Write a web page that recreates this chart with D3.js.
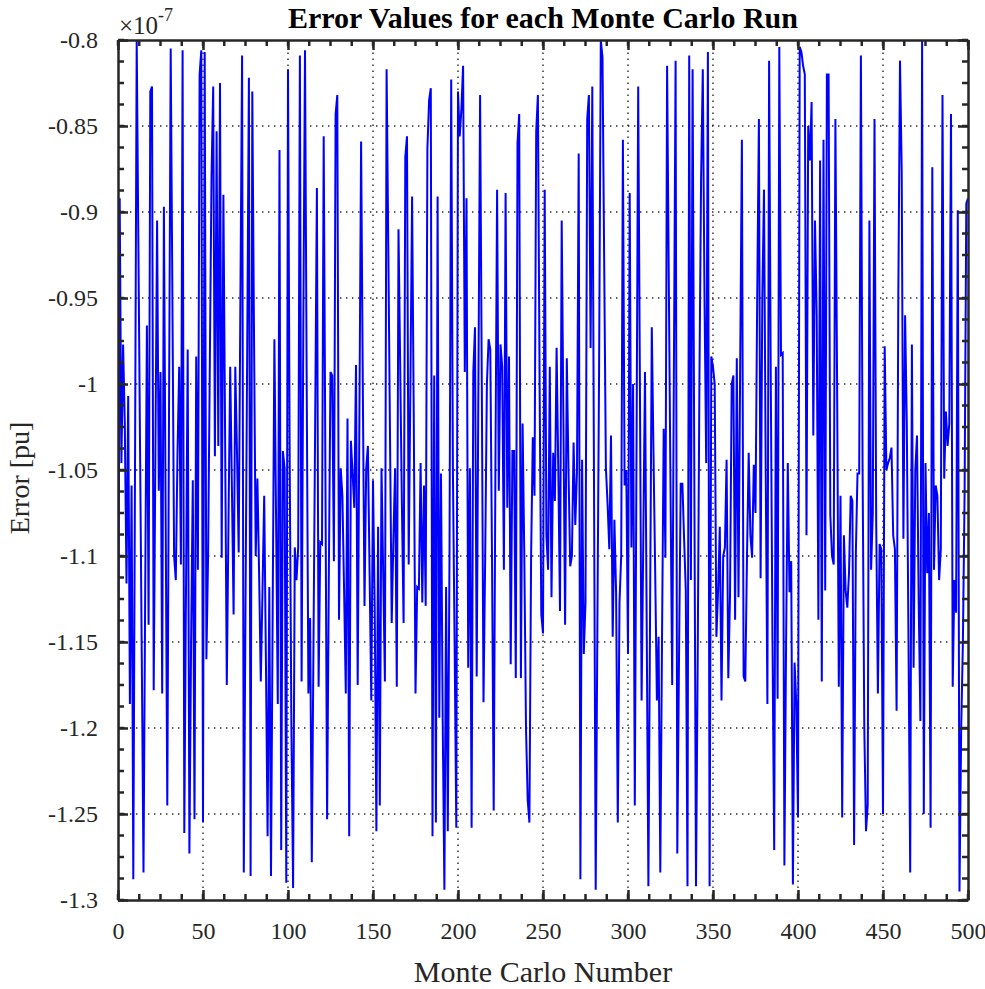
<!DOCTYPE html>
<html><head><meta charset="utf-8">
<script src="https://cdn.jsdelivr.net/npm/d3@7"></script>
<style>body{margin:0;background:#fff}svg{display:block}</style>
</head><body>
<svg id="chart" width="985" height="989"></svg>
<script>
// Error values (x1e-7 pu) for Monte Carlo runs 0..500
const runs000 = [-1.265,-0.892,-1.046,-0.977,-1.023,-1.116,-1.007,-1.186,-1.059,-1.288,
-1.05,-0.80,-0.92,-1.04,-1.16,-1.284,-1.12,-0.966,-1.14,-0.83,
-0.827,-1.178,-1.04,-0.905,-1.062,-0.993,-1.18,-0.897,-1.07,-1.245,
-1.02,-0.805,-0.95,-1.10,-1.114,-1.04,-0.99,-1.105,-0.806,-1.261,
-1.12,-0.98,-1.273,-1.15,-1.056,-1.253,-0.984,-1.108,-0.82,-0.806];
const runs050 = [-1.255,-0.807,-1.16,-1.10,-0.99,-0.88,-0.827,-1.042,-0.853,-1.036,
-0.825,-1.101,-0.89,-1.03,-1.175,-1.08,-0.99,-1.06,-1.134,-0.99,
-1.04,-1.098,-0.95,-0.809,-1.284,-1.13,-0.98,-0.822,-1.286,-0.83,
-0.97,-1.10,-1.055,-1.11,-1.173,-1.12,-1.065,-1.16,-1.263,-1.118,
-1.286,-1.13,-0.974,-1.08,-1.186,-0.864,-1.271,-1.039,-1.049,-1.29];
const runs100 = [-0.817,-1.045,-1.20,-1.293,-1.095,-1.114,-1.095,-0.809,-1.173,-0.97,
-0.806,-1.00,-1.18,-1.136,-1.278,-1.15,-1.02,-0.886,-1.176,-1.092,
-1.093,-0.856,-1.05,-1.253,-1.114,-0.993,-0.995,-1.103,-0.843,-0.832,
-1.137,-1.049,-1.065,-1.12,-1.18,-1.02,-1.263,-1.033,-1.052,-1.072,
-0.989,-1.175,-1.02,-0.859,-1.0,-1.129,-1.049,-1.036,-1.11,-1.184];
const runs150 = [-1.056,-1.13,-1.26,-1.083,-1.245,-1.049,-1.11,-1.173,-0.817,-0.92,
-1.03,-1.139,-1.09,-1.049,-1.176,-0.91,-0.99,-1.07,-1.139,-0.868,
-0.856,-1.105,-1.0,-0.891,-1.023,-1.18,-1.118,-1.119,-1.046,-1.127,
-1.059,-1.129,-0.863,-0.835,-0.828,-1.263,-0.995,-1.255,-0.891,-1.194,
-1.052,-1.196,-1.294,-1.118,-1.26,-1.10,-0.823,-1.05,-1.15,-1.258];
const runs200 = [-0.83,-0.856,-0.84,-0.815,-0.993,-0.892,-1.165,-1.049,-1.258,-0.993,
-0.967,-1.17,-1.0,-0.832,-1.0,-1.185,-1.1,-1.0,-0.974,-0.98,
-1.1,-1.248,-1.05,-0.887,-1.062,-0.977,-0.99,-1.108,-0.889,-1.072,
-0.984,-1.163,-1.039,-1.039,-1.171,-0.86,-0.843,-1.171,-1.023,-1.1,
-1.2,-1.242,-1.255,-1.1,-1.031,-1.065,-0.853,-0.832,-1.0,-1.134];
const runs250 = [-1.145,-0.887,-1.088,-1.108,-0.99,-1.124,-1.04,-1.068,-0.979,-1.05,
-1.132,-0.905,-1.02,-1.14,-0.985,-1.05,-1.106,-1.10,-1.034,-1.082,
-1.05,-0.866,-1.288,-1.044,-1.157,-1.127,-0.846,-0.832,-0.979,-0.827,
-1.056,-1.294,-1.14,-0.99,-0.80,-0.81,-0.93,-1.049,-1.07,-1.096,
-1.03,-1.147,-1.079,-1.121,-1.255,-1.127,-1.10,-0.858,-1.059,-1.05];
const runs300 = [-1.157,-0.889,-1.095,-1.0,-1.245,-1.04,-0.827,-1.0,-1.184,-1.09,
-0.993,-1.14,-1.292,-1.13,-0.967,-1.04,-1.11,-1.184,-1.147,-1.284,
-1.15,-1.026,-1.101,-0.815,-0.94,-1.06,-1.175,-0.99,-0.812,-1.273,
-1.16,-1.058,-1.058,-1.09,-1.12,-1.292,-0.809,-1.114,-0.817,-1.05,
-1.292,-1.16,-1.0,-0.88,-0.817,-0.95,-1.046,-0.807,-1.292,-0.984];
const runs350 = [-0.99,-1.0,-1.147,-1.12,-1.083,-1.184,-1.10,-1.095,-1.044,-1.171,
-1.124,-1.0,-0.995,-1.137,-0.985,-1.124,-0.987,-0.858,-1.17,-1.173,
-1.10,-1.04,-1.088,-1.101,-1.047,-1.075,-0.95,-0.846,-1.113,-0.95,
-0.887,-1.05,-1.186,-0.812,-1.0,-1.15,-1.271,-0.99,-1.183,-0.804,
-0.983,-0.982,-1.28,-1.15,-1.046,-1.121,-1.103,-1.291,-1.162,-1.186];
const runs400 = [-1.252,-0.804,-0.807,-0.815,-0.82,-1.088,-0.85,-0.87,-0.836,-1.03,
-0.905,-0.96,-1.137,-0.87,-1.173,-0.858,-1.12,-0.82,-0.82,-1.076,
-1.10,-1.105,-0.846,-1.0,-1.176,-1.065,-1.252,-1.088,-1.12,-1.13,
-1.11,-1.065,-1.068,-1.268,-1.10,-1.052,-1.052,-0.809,-1.05,-1.20,
-1.26,-1.245,-0.905,-1.108,-1.075,-0.846,-1.08,-1.18,-1.093,-1.096];
const runs450 = [-1.25,-0.978,-1.05,-1.046,-1.043,-1.037,-1.088,-1.096,-1.19,-0.95,
-0.812,-0.876,-1.09,-0.96,-1.023,-1.15,-1.284,-0.977,-1.165,-1.05,
-1.03,-1.127,-1.196,-0.80,-1.25,-1.046,-1.11,-1.075,-1.258,-0.874,
-1.108,-1.059,-1.065,-1.114,-1.096,-0.832,-1.055,-1.016,-1.036,-1.023,
-0.843,-1.176,-1.114,-1.133,-0.899,-1.295,-1.20,-1.15,-1.063,-0.895,
-0.892];

const xTickValues = [0,50,100,150,200,250,300,350,400,450,500];
const yTickValues = [-1.3,-1.25,-1.2,-1.15,-1.1,-1.05,-1,-0.95,-0.9,-0.85,-0.8];
const yTickLabels = ["-1.3","-1.25","-1.2","-1.15","-1.1","-1.05","-1","-0.95","-0.9","-0.85","-0.8"];
const titleText = "Error Values for each Monte Carlo Run";
const xLabelText = "Monte Carlo Number";
const yLabelText = "Error [pu]";

const errors = [].concat(runs000,runs050,runs100,runs150,runs200,runs250,runs300,runs350,runs400,runs450);
const data = errors.map((v,i)=>({run:i, err:v}));

const svg = d3.select("#chart");
const L = 118, R = 968, T = 40, B = 900;
const x = d3.scaleLinear().domain([0,500]).range([L,R]);
const y = d3.scaleLinear().domain([-1.3,-0.8]).range([B,T]);
const axisColor = "#262626";
const serif = "'Liberation Serif','Times New Roman',Times,serif";

// grid
const grid = svg.append("g").attr("stroke", axisColor).attr("stroke-width",1.4).attr("stroke-dasharray","1.4,4.6");
grid.selectAll("line.gx").data(xTickValues.slice(1,-1)).join("line")
  .attr("x1",d=>x(d)).attr("x2",d=>x(d)).attr("y1",B).attr("y2",T);
grid.selectAll("line.gy").data(yTickValues.slice(1,-1)).join("line")
  .attr("y1",d=>y(d)).attr("y2",d=>y(d)).attr("x1",L).attr("x2",R);

// line
svg.append("clipPath").attr("id","clip").append("rect").attr("x",L).attr("y",T-1).attr("width",R-L).attr("height",B-T+2);
svg.append("path").datum(data)
  .attr("clip-path","url(#clip)")
  .attr("fill","none").attr("stroke","#0000ff").attr("stroke-width",2)
  .attr("stroke-linejoin","miter").attr("stroke-miterlimit",4)
  .attr("d", d3.line().x(d=>x(d.run)).y(d=>y(d.err)));

// axes (ticks inward)
const minorX = d3.range(0,500.01,12.5);
const minorY = d3.range(0,41).map(i=>-1.3+i*0.0125);
function styleAxis(g){
  g.select(".domain").attr("stroke",axisColor).attr("stroke-width",2.5);
  g.selectAll(".tick line").attr("stroke",axisColor).attr("stroke-width",2.5);
  g.selectAll(".tick text").attr("fill",axisColor).style("font-family",serif).style("font-size","24px");
}
const xb = svg.append("g").attr("transform",`translate(0,${B})`)
  .call(d3.axisBottom(x).tickValues(xTickValues).tickSizeInner(-10).tickSizeOuter(0).tickPadding(22).tickFormat(d3.format("d")));
styleAxis(xb);
const xt = svg.append("g").attr("transform",`translate(0,${T})`)
  .call(d3.axisTop(x).tickValues(xTickValues).tickSizeInner(-10).tickSizeOuter(0).tickFormat(""));
styleAxis(xt);
const yl = svg.append("g").attr("transform",`translate(${L},0)`)
  .call(d3.axisLeft(y).tickValues(yTickValues).tickSizeInner(-10).tickSizeOuter(0).tickPadding(20).tickFormat((d,i)=>yTickLabels[i]));
styleAxis(yl);
const yr = svg.append("g").attr("transform",`translate(${R},0)`)
  .call(d3.axisRight(y).tickValues(yTickValues).tickSizeInner(-10).tickSizeOuter(0).tickFormat(""));
styleAxis(yr);
// minor ticks
const mt = svg.append("g").attr("stroke",axisColor).attr("stroke-width",2.5);
mt.selectAll("line.mxb").data(minorX).join("line").attr("x1",d=>x(d)).attr("x2",d=>x(d)).attr("y1",B).attr("y2",B-6);
mt.selectAll("line.mxt").data(minorX).join("line").attr("x1",d=>x(d)).attr("x2",d=>x(d)).attr("y1",T).attr("y2",T+6);
mt.selectAll("line.myl").data(minorY).join("line").attr("y1",d=>y(d)).attr("y2",d=>y(d)).attr("x1",L).attr("x2",L+6);
mt.selectAll("line.myr").data(minorY).join("line").attr("y1",d=>y(d)).attr("y2",d=>y(d)).attr("x1",R).attr("x2",R-6);

// texts
svg.append("text").attr("x",543).attr("y",28).attr("text-anchor","middle")
  .style("font-family",serif).style("font-weight","bold").style("font-size","30px").attr("fill","#000").text(titleText);
svg.append("text").attr("x",543).attr("y",982).attr("text-anchor","middle")
  .style("font-family",serif).style("font-size","30px").attr("fill",axisColor).text(xLabelText);
svg.append("text").attr("transform","translate(29,478) rotate(-90)").attr("text-anchor","middle")
  .style("font-family",serif).style("font-size","28px").attr("fill",axisColor).text(yLabelText);
const ex = svg.append("text").attr("x",119).attr("y",34).style("font-family",serif).style("font-size","25px").attr("fill",axisColor);
ex.append("tspan").text("\u00d710");
ex.append("tspan").attr("dy",-13).style("font-size","18px").text("-7");
</script>
</body></html>
